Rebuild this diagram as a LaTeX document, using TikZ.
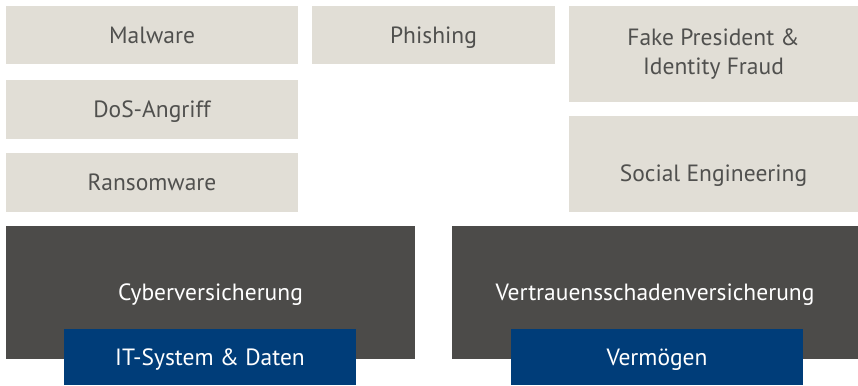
\documentclass[tikz,border=0pt]{standalone}
\usepackage{fontspec}
\setmainfont{PT Sans}
\usepackage{tikz}
\definecolor{sand}{RGB}{225,222,214}
\definecolor{slate}{RGB}{76,75,73}
\definecolor{navy}{RGB}{0,61,121}
\definecolor{ink}{RGB}{80,80,78}
\tikzset{
  boxfont/.style   = {font=\fontsize{23.5}{29}\selectfont,text height=16.5pt,text depth=0pt},
  threatbox/.style = {fill=sand,text=ink,inner sep=0pt,align=center,boxfont},
  coverbox/.style  = {fill=slate,text=white,inner sep=0pt,boxfont},
  assetbox/.style  = {fill=navy,text=white,inner sep=0pt,boxfont}
}

\begin{document}
\begin{tikzpicture}[x=1pt,y=-1pt]
  \useasboundingbox (0,0) rectangle (858,385);
  % threats, left column
  \node[threatbox,minimum width=292pt,minimum height=58pt] (malware)    at (152,35)    {Malware};
  \node[threatbox,minimum width=292pt,minimum height=59pt] (dos)        at (152,109.5) {DoS-Angriff};
  \node[threatbox,minimum width=292pt,minimum height=59pt] (ransom)     at (152,182.5) {Ransomware};
  % threats, middle and right
  \node[threatbox,minimum width=243pt,minimum height=58pt] (phishing)   at (433.5,35)  {Phishing};
  \node[threatbox,minimum width=289pt,minimum height=96pt,text height=,text depth=] (fraud) at (713.5,54) {Fake President \&\\Identity Fraud};
  \node[threatbox,minimum width=289pt,minimum height=96pt] (social)     at (713.5,164) {};
  \node[threatbox,fill=none] (socialtxt) at ([yshift=-9pt]social.center) {Social Engineering};
  % insurance
  \node[coverbox,minimum width=409pt,minimum height=133pt] (cyber)      at (210.5,292.5) {Cyberversicherung};
  \node[coverbox,minimum width=406pt,minimum height=133pt] (trust)      at (655,292.5)   {Vertrauensschadenversicherung};
  % assets
  \node[assetbox,minimum width=292pt,minimum height=56pt]  (itdata)     at (210,357)     {IT-System \& Daten};
  \node[assetbox,minimum width=292pt,minimum height=56pt]  (assets)     at (657,357)     {Vermögen};
\end{tikzpicture}
\end{document}
